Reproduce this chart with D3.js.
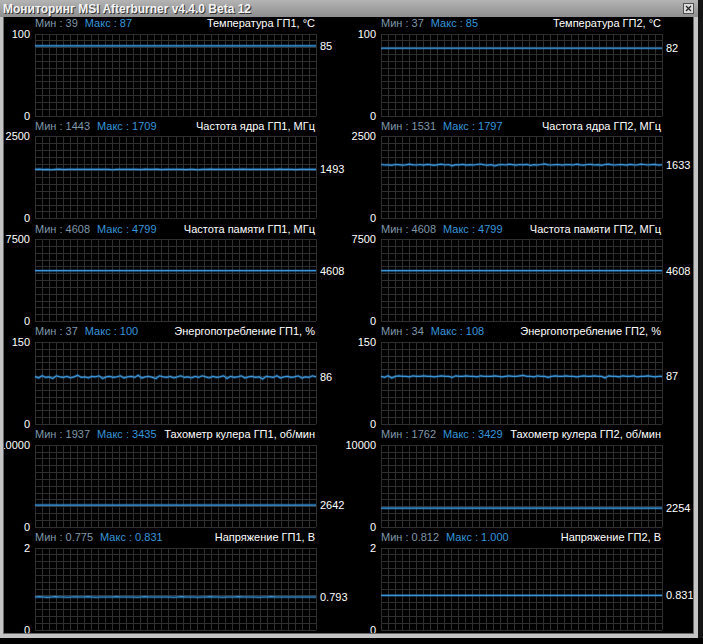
<!DOCTYPE html>
<html><head><meta charset="utf-8">
<script src="https://cdn.jsdelivr.net/npm/d3@7"></script>
<style>
html,body{margin:0;padding:0;background:#000;}
svg{display:block;}
text{font-family:"Liberation Sans",Arial,sans-serif;}
</style></head>
<body>
<script>
// ---------- DATA ----------
const windowTitle = "Мониторинг MSI Afterburner v4.4.0 Beta 12";
const panelTitles = [
  ["Температура ГП1, °C", "Температура ГП2, °C"],
  ["Частота ядра ГП1, МГц", "Частота ядра ГП2, МГц"],
  ["Частота памяти ГП1, МГц", "Частота памяти ГП2, МГц"],
  ["Энергопотребление ГП1, %", "Энергопотребление ГП2, %"],
  ["Тахометр кулера ГП1, об/мин", "Тахометр кулера ГП2, об/мин"],
  ["Напряжение ГП1, В", "Напряжение ГП2, В"]
];
const axisMax = [100, 2500, 7500, 150, 10000, 2];
const minLabels = [["39","37"],["1443","1531"],["4608","4608"],["37","34"],["1937","1762"],["0.775","0.812"]];
const maxLabels = [["87","85"],["1709","1797"],["4799","4799"],["100","108"],["3435","3429"],["0.831","1.000"]];
const currentLabels = [["85","82"],["1493","1633"],["4608","4608"],["86","87"],["2642","2254"],["0.793","0.831"]];

const tempGP1 = [85,85,85,85,85,85,85,85,85,85,85,85];
const tempGP2 = [82,82,82,82,82,82,82,82,82,82,82,82];
const coreGP1 = [1493,1500,1487,1493,1480,1493,1500,1486,1493,1493,1493,1493,1493,1493,1493,1493,1493,1493,1493,1480,1493,1493,1493,1493,1493,1493,1487,1500,1493,1493,1498,1486,1493,1493,1493,1493,1493,1487,1493,1493,1480,1493,1493,1500,1493,1493,1493,1493,1493,1493,1493,1500,1493,1493,1493,1493,1493,1493,1493,1493,1500,1493,1493,1493,1487,1493,1493,1493,1493,1493];
const coreGP2 = [1640,1625,1630,1615,1640,1635,1620,1630,1650,1630,1625,1640,1620,1645,1630,1615,1635,1650,1625,1640,1600,1635,1630,1645,1620,1635,1625,1640,1655,1630,1620,1635,1595,1630,1640,1625,1650,1635,1620,1640,1630,1645,1610,1635,1625,1640,1660,1630,1625,1635,1640,1620,1640,1635,1625,1650,1630,1620,1640,1645,1625,1635,1615,1640,1650,1630,1625,1640,1635,1620,1645,1630,1625,1650,1640,1625,1635,1645,1620,1633];
const memGP1 = [4608,4608,4608,4608,4608,4608,4608,4608,4608,4608,4608,4608];
const memGP2 = [4608,4608,4608,4608,4608,4608,4608,4608,4608,4608,4608,4608];
const powerGP1 = [87,84,88,85,86,83,88,86,85,87,84,86,89,85,86,84,87,86,88,83,86,87,85,86,88,84,86,87,85,89,84,86,87,85,83,88,86,85,87,84,86,88,85,86,84,87,85,88,86,84,87,85,86,88,83,87,85,86,88,84,86,87,85,86,82,87,86,85,88,84,86,87,85,86,88,84,86,85,88,86];
const powerGP2 = [87,85,88,84,87,88,87,87,86,88,87,87,88,87,87,86,87,88,87,87,85,88,87,87,88,87,87,86,88,87,87,87,88,87,86,87,88,87,87,88,89,87,87,86,88,87,87,85,87,88,87,87,88,87,87,86,87,88,87,87,88,87,87,84,88,87,87,86,88,87,87,88,86,87,87,88,87,86,87,87];
const fanGP1 = [2642,2642,2642,2642,2642,2642,2642,2642,2642,2642,2642,2642];
const fanGP2 = [2254,2254,2254,2254,2254,2254,2254,2254,2254,2254,2254,2254];
const voltGP1 = [0.793,0.800,0.793,0.786,0.793,0.800,0.793,0.793,0.787,0.793,0.799,0.793,0.793,0.800,0.793,0.787,0.793,0.793,0.793,0.793,0.800,0.793,0.793,0.793,0.793,0.787,0.793,0.800,0.793,0.793,0.793,0.793,0.793,0.793,0.787,0.793,0.800,0.793,0.793,0.793,0.787,0.793,0.793,0.800,0.793,0.793,0.787,0.793,0.793,0.793,0.800,0.793,0.793,0.793,0.793,0.787,0.793,0.793,0.800,0.793,0.793,0.793,0.793,0.793,0.793,0.793,0.793,0.793,0.793,0.793];
const voltGP2 = [0.831,0.831,0.831,0.831,0.831,0.831,0.831,0.831,0.831,0.831,0.831,0.831];

const seriesGrid = [
  [tempGP1, tempGP2],
  [coreGP1, coreGP2],
  [memGP1, memGP2],
  [powerGP1, powerGP2],
  [fanGP1, fanGP2],
  [voltGP1, voltGP2]
];

// ---------- LAYOUT ----------
const W = 703, H = 644;
const colLeft = [35, 381];
const gridW = 281;
const top0 = 33.5, step = 102.8, gridH = 82;
const nCols = 40, nRows = 12;

const svg = d3.select("body").append("svg").attr("width", W).attr("height", H);
svg.append("rect").attr("width", W).attr("height", H).attr("fill", "#000");

const defs = svg.append("defs");
const grad = defs.append("linearGradient").attr("id","tb").attr("x1",0).attr("y1",0).attr("x2",0).attr("y2",1);
grad.append("stop").attr("offset","0%").attr("stop-color","#b4b4b4");
grad.append("stop").attr("offset","100%").attr("stop-color","#8e8e8e");

const gridStepX = d3.scaleLinear().domain([0, nCols]);
const gridStepY = d3.scaleLinear().domain([0, nRows]);

seriesGrid.forEach((row, r) => {
  const top = top0 + r * step;
  row.forEach((vals, c) => {
    const left = colLeft[c];
    const g = svg.append("g");
    const x = d3.scaleLinear().domain([0, vals.length - 1]).range([left, left + gridW]);
    const y = d3.scaleLinear().domain([0, axisMax[r]]).range([top + gridH, top]);
    gridStepX.range([left, left + gridW]);
    gridStepY.range([top, top + gridH]);

    // grid
    const gg = g.append("g").attr("stroke", "#2f2f2f").attr("stroke-width", 1).attr("shape-rendering","crispEdges");
    d3.range(nCols + 1).forEach(i => {
      const xx = Math.round(gridStepX(i)) + 0.5;
      gg.append("line").attr("x1", xx).attr("x2", xx).attr("y1", top).attr("y2", top + gridH);
    });
    d3.range(nRows + 1).forEach(i => {
      const yy = Math.round(gridStepY(i)) + 0.5;
      gg.append("line").attr("x1", left).attr("x2", left + gridW).attr("y1", yy).attr("y2", yy);
    });

    // y axis
    const ax = g.append("g").attr("transform", `translate(${left},0)`)
      .call(d3.axisLeft(y).tickValues([0, axisMax[r]]).tickSize(0).tickPadding(5).tickFormat(d3.format("")));
    ax.select(".domain").remove();
    ax.selectAll("text").attr("fill", "#fff").style("font-size", "11px")
      .style("font-family", '"Liberation Sans",Arial,sans-serif');

    // header
    const hy = top - 6.5;
    const ht = g.append("text").attr("x", left).attr("y", hy).style("font-size", "11px");
    ht.append("tspan").attr("fill", "#7f98aa").text("Мин : " + minLabels[r][c]);
    ht.append("tspan").attr("fill", "#3696db").attr("dx", 7).text("Макс : " + maxLabels[r][c]);
    g.append("text").attr("x", left + gridW - 1).attr("y", hy).attr("text-anchor", "end")
      .attr("fill", "#fff").style("font-size", "11px").text(panelTitles[r][c]);

    // line (soft glow underlay + main stroke)
    const line = d3.line().x((d, i) => x(i)).y(d => y(d));
    g.append("path").datum(vals).attr("d", line).attr("fill", "none")
      .attr("stroke", "#2a7cc0").attr("stroke-opacity", 0.35).attr("stroke-width", 3);
    g.append("path").datum(vals).attr("d", line).attr("fill", "none")
      .attr("stroke", "#3a96d8").attr("stroke-width", 1.2);

    // current value
    const last = vals[vals.length - 1];
    g.append("text").attr("x", left + gridW + 4).attr("y", y(last)).attr("dy", "0.35em")
      .attr("fill", "#fff").style("font-size", "11px").text(currentLabels[r][c]);
  });
});

// ---------- WINDOW CHROME ----------
svg.append("rect").attr("x", 698).attr("y", 0).attr("width", 5).attr("height", H).attr("fill", "#141414");
svg.append("rect").attr("x", 0).attr("y", 638).attr("width", W).attr("height", 6).attr("fill", "#000");
svg.append("rect").attr("x", 0).attr("y", 0).attr("width", 698).attr("height", 17).attr("fill", "url(#tb)");
svg.append("rect").attr("x", 0).attr("y", 17).attr("width", 3).attr("height", 621).attr("fill", "#c4c4c4");
svg.append("rect").attr("x", 694).attr("y", 17).attr("width", 4).attr("height", 621).attr("fill", "#c4c4c4");
svg.append("rect").attr("x", 0).attr("y", 634).attr("width", 698).attr("height", 4).attr("fill", "#c4c4c4");
svg.append("line").attr("x1", 3.5).attr("x2", 3.5).attr("y1", 17).attr("y2", 634).attr("stroke", "#6a6a6a");
svg.append("line").attr("x1", 693.5).attr("x2", 693.5).attr("y1", 17).attr("y2", 634).attr("stroke", "#6a6a6a");
svg.append("line").attr("x1", 3).attr("x2", 694).attr("y1", 633.5).attr("y2", 633.5).attr("stroke", "#6a6a6a");

svg.append("text").attr("x", 4).attr("y", 14).attr("fill", "#333")
  .style("font-size", "12px").style("font-weight", "bold")
  .attr("textLength", 248).attr("lengthAdjust", "spacingAndGlyphs").text(windowTitle);
svg.append("text").attr("x", 3).attr("y", 13).attr("fill", "#f4f4f4")
  .style("font-size", "12px").style("font-weight", "bold")
  .attr("textLength", 248).attr("lengthAdjust", "spacingAndGlyphs").text(windowTitle);

const cb = svg.append("g");
cb.append("rect").attr("x", 683.5).attr("y", 3.5).attr("width", 10).attr("height", 10)
  .attr("fill", "#dcdcdc").attr("stroke", "#505050");
cb.append("path").attr("d", "M686,6 L691,11 M691,6 L686,11").attr("stroke", "#222").attr("stroke-width", 1.2);
</script>
</body></html>
